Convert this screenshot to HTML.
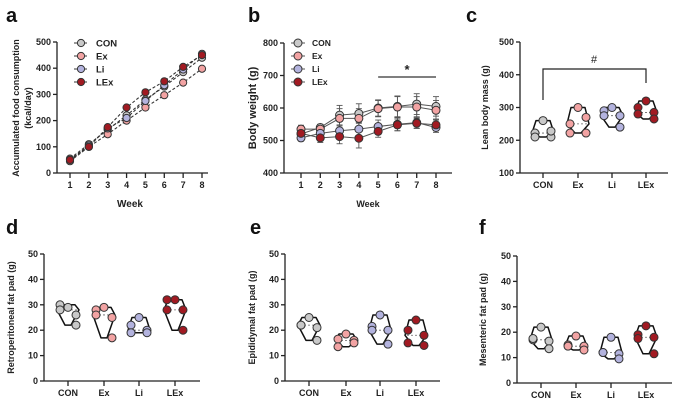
<!DOCTYPE html>
<html><head><meta charset="utf-8"><style>
body{margin:0;background:#fff}
svg{display:block;font-family:"Liberation Sans",sans-serif}
</style></head><body>
<svg id="fig" width="675" height="403" viewBox="0 0 675 403"></svg>
<script>
const weeks=[1,2,3,4,5,6,7,8];
const groups=["CON","Ex","Li","LEx"];
const colors={CON:"#c9c9c9",Ex:"#f2a3a3",Li:"#b3b3de",LEx:"#a11a22"};
// panel a: accumulated food consumption
const foodCON=[55,110,165,220,280,330,385,440];
const foodEx=[45,100,148,200,250,297,345,398];
const foodLi=[50,105,170,210,275,335,395,455];
const foodLEx=[50,100,175,250,308,350,405,450];
// panel b: body weight
const bwCON=[520,540,578,583,600,605,612,605];
const bwEx=[535,535,568,568,598,603,603,593];
const bwLi=[508,522,530,535,543,550,555,540];
const bwLEx=[522,508,512,507,528,548,553,548];
const bwErrCON=[12,10,30,30,25,32,32,30];
const bwErrLi=[10,12,15,20,20,20,18,15];
const bwErrLEx=[10,14,22,30,18,18,15,18];
// panel c: lean body mass
const leanCON=[260,222,210,210,228];
const leanEx=[300,250,270,222,222];
const leanLi=[300,290,275,275,240];
const leanLEx=[320,300,285,280,265];
// panels d-f
const retroCON=[29,30,26,28,22],retroEx=[29,28,25,26,17],retroLi=[25,22,20,19,19],retroLEx=[32,32,28,28,20];
const epiCON=[25,22,21,22,16],epiEx=[18.5,16.5,16,13.5,15],epiLi=[26,21.5,20,20,14.5],epiLEx=[24,20,18,15,14];
const mesCON=[22,17,16.5,17.5,13.5],mesEx=[18.5,15,14.5,14.5,13],mesLi=[18,12,11.5,12,9.5],mesLEx=[22.5,19,18,17.5,11.5];
const ticks500=[0,100,200,300,400,500];
const ticksBW=[400,500,600,700,800];
const ticksLean=[100,200,300,400,500];
const ticks50=[0,10,20,30,40,50];

const svg=document.getElementById('fig');
const NS="http://www.w3.org/2000/svg";
function el(tag,attrs,parent){const e=document.createElementNS(NS,tag);for(const k in attrs)e.setAttribute(k,attrs[k]);(parent||svg).appendChild(e);return e;}
function txt(s,attrs,parent){const t=el('text',attrs,parent);t.textContent=s;return t;}
function lin(d0,d1,r0,r1){return v=>r0+(v-d0)/(d1-d0)*(r1-r0);}

function axes(g,x0,x1,yTop,yBot,ticks,ys,xt){
  const ya=el('line',{x1:x0,y1:yTop,x2:x0,y2:yBot,stroke:'#222','stroke-width':1.3},g);
  
  const xa=el('line',{x1:x0,y1:yBot,x2:x1,y2:yBot,stroke:'#222','stroke-width':1.3},g);
  
  ticks.forEach(v=>{el('line',{x1:x0-4,y1:ys(v),x2:x0,y2:ys(v),stroke:'#222','stroke-width':1.3},g);
    const t=txt(v,{x:x0-6,y:ys(v)+3,'font-size':9,'font-weight':'bold','text-anchor':'end',fill:'#222'},g);
    });
  xt.forEach(([x,l])=>{el('line',{x1:x,y1:yBot,x2:x,y2:yBot+5,stroke:'#222','stroke-width':1.3},g);
    const t=txt(l,{x:x,y:yBot+15,'font-size':9,'font-weight':'bold','text-anchor':'middle',fill:'#222'},g);
    });
}
function panelLetter(s,x,y){const t=txt(s,{x:x,y:y,'font-size':20,'font-weight':'bold',fill:'#111'});}
function ytitle(lines,x,yc,size){lines.forEach((l,i)=>{const t=txt(l,{x:x+i*12,y:yc,'font-size':size,'font-weight':'bold','text-anchor':'middle',fill:'#222',transform:`rotate(-90 ${x+i*12} ${yc})`});});}

// ---- Panel a
panelLetter('a',6,22);
{const g=el('g',{});
 const xs=lin(1,8,70,202),ys=lin(0,500,173,42);
 axes(g,57,208,42,173,ticks500,ys,weeks.map(w=>[xs(w),w]));
 ytitle(['Accumulated food consumption','(kcal/day)'],19,108,9);
 const wt=txt('Week',{x:130,y:207,'font-size':10,'font-weight':'bold','text-anchor':'middle',fill:'#222'},g);
 const series={CON:foodCON,Ex:foodEx,Li:foodLi,LEx:foodLEx};
 groups.forEach(k=>{const d=series[k];
  const p=el('polyline',{points:d.map((v,i)=>xs(weeks[i])+','+ys(v)).join(' '),fill:'none',stroke:'#333','stroke-width':1.1,'stroke-dasharray':'3,2'},g);
  
  d.forEach((v,i)=>{const c=el('circle',{cx:xs(weeks[i]),cy:ys(v),r:3.6,fill:colors[k],stroke:'#333','stroke-width':1},g);});});
 groups.forEach((k,i)=>{const y=43+i*13;
  el('line',{x1:74,y1:y,x2:88,y2:y,stroke:'#333','stroke-width':1.1,'stroke-dasharray':'3,2'},g);
  const c=el('circle',{cx:81,cy:y,r:3.6,fill:colors[k],stroke:'#333'},g);
  const t=txt(k,{x:96,y:y+3.5,'font-size':9.5,'font-weight':'bold',fill:'#222'},g);});
}
// ---- Panel b
panelLetter('b',248,22);
{const g=el('g',{});
 const xs=lin(1,8,301,436),ys=lin(400,800,173,43);
 axes(g,284,452,43,173,ticksBW,ys,weeks.map(w=>[xs(w),w]));
 ytitle(['Body weight (g)'],256,108,11);
 const wt=txt('Week',{x:368,y:207,'font-size':9,'font-weight':'bold','text-anchor':'middle',fill:'#222'},g);
 const series={CON:bwCON,Ex:bwEx,Li:bwLi,LEx:bwLEx};
 const errs={CON:bwErrCON,Ex:bwErrCON,Li:bwErrLi,LEx:bwErrLEx};
 groups.forEach(k=>{const d=series[k];
  d.forEach((v,i)=>{const e=errs[k][i];const x=xs(weeks[i]);
   el('line',{x1:x,y1:ys(v+e),x2:x,y2:ys(v-e),stroke:'#555','stroke-width':0.9},g);
   el('line',{x1:x-3,y1:ys(v+e),x2:x+3,y2:ys(v+e),stroke:'#555','stroke-width':0.9},g);
   el('line',{x1:x-3,y1:ys(v-e),x2:x+3,y2:ys(v-e),stroke:'#555','stroke-width':0.9},g);});
  const p=el('polyline',{points:d.map((v,i)=>xs(weeks[i])+','+ys(v)).join(' '),fill:'none',stroke:'#555','stroke-width':1},g);
  });
 groups.forEach(k=>{series[k].forEach((v,i)=>{const c=el('circle',{cx:xs(weeks[i]),cy:ys(v),r:4,fill:colors[k],stroke:'#333','stroke-width':1},g);});});
 const sl=el('line',{x1:xs(5),y1:77,x2:xs(8),y2:77,stroke:'#333','stroke-width':1.2},g);
 const st=txt('*',{x:(xs(5)+xs(8))/2,y:74,'font-size':13,'font-weight':'bold','text-anchor':'middle',fill:'#222'},g);
 groups.forEach((k,i)=>{const y=43+i*13;
  el('line',{x1:291,y1:y,x2:305,y2:y,stroke:'#555','stroke-width':1},g);
  const c=el('circle',{cx:298,cy:y,r:4,fill:colors[k],stroke:'#333'},g);
  const t=txt(k,{x:312,y:y+3,'font-size':8.5,'font-weight':'bold',fill:'#222'},g);});
}
// ---- violin panels
function violin(name,x0,x1,yTop,yBot,dmin,dmax,ticks,cats,dataSets,title,tx){
 const g=el('g',{});
 const ys=lin(dmin,dmax,yBot,yTop);
 axes(g,x0,x1,yTop,yBot,ticks,ys,groups.map((k,i)=>[cats[i],k]));
 ytitle([title],tx,(yTop+yBot)/2,9);
 const offs=[0,-8,8,-8,8];
 groups.forEach((k,gi)=>{const d=dataSets[gi];const cx=cats[gi];
  const mx=Math.max(...d),mn=Math.min(...d);const sorted=[...d].sort((a,b)=>a-b);const med=sorted[2];
  const yT=ys(mx),yB=ys(mn),yM=ys(med);
  const pts=[[cx-7,yT],[cx+7,yT],[cx+11,yM],[cx+3,yB],[cx-3,yB],[cx-11,yM]];
  const v=el('polygon',{points:pts.map(p=>p.join(',')).join(' '),fill:'#fff',stroke:'#111','stroke-width':1.5,'stroke-linejoin':'round'},g);
  el('line',{x1:cx-9,y1:yM,x2:cx+9,y2:yM,stroke:'#666','stroke-width':0.8,'stroke-dasharray':'2,2'},g);
  d.forEach((val,i)=>{const c=el('circle',{cx:cx+offs[i],cy:ys(val),r:4,fill:colors[k],stroke:'#333','stroke-width':1},g);});});
 return {g,ys};
}
panelLetter('c',466,22);
{const r=violin('lean-mass-chart',520,668,42,173,100,500,ticksLean,[543,578,612,646],[leanCON,leanEx,leanLi,leanLEx],'Lean body mass (g)',488);
 const b=el('path',{d:'M543,100 L543,69 L646,69 L646,83',fill:'none',stroke:'#222','stroke-width':1.2},r.g);
 const h=txt('#',{x:594,y:63,'font-size':11,'text-anchor':'middle',fill:'#222'},r.g);}
panelLetter('d',6,234);
violin('retroperitoneal-fat-chart',44,200,254,381,0,50,ticks50,[68,104,139,175],[retroCON,retroEx,retroLi,retroLEx],'Retroperitoneal fat pad (g)',14);
panelLetter('e',250,234);
violin('epididymal-fat-chart',285,440,254,381,0,50,ticks50,[309,346,380,416],[epiCON,epiEx,epiLi,epiLEx],'Epididymal fat pad (g)',255);
panelLetter('f',479,234);
violin('mesenteric-fat-chart',517,672,256,383,0,50,ticks50,[541,576,611,646],[mesCON,mesEx,mesLi,mesLEx],'Mesenteric fat pad (g)',486);
</script>
</body></html>
